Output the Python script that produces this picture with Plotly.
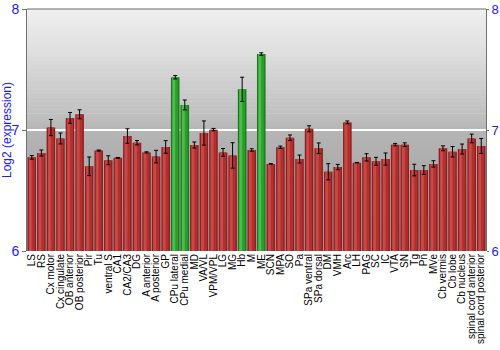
import plotly.graph_objects as go
import numpy as np

regions = ["LS", "RS", "Cx motor", "Cx cingulate", "OB anterior", "OB posterior", "Pir", "Tu",
           "ventral S", "CA1", "CA2/CA3", "DG", "A anterior", "A posterior", "GP", "CPu lateral",
           "CPu medial", "MD", "VA/VL", "VPM/VPL", "LG", "MG", "Hb", "M", "ME", "SCN", "MPA", "SO",
           "Pa", "SPa ventral", "SPa dorsal", "DM", "VMH", "Arc", "LH", "PAG", "SC", "IC", "VTA",
           "SN", "Tg", "Pn", "MVe", "Cb vermis", "Cb lobe", "Cb nucleus", "spinal cord anterior",
           "spinal cord posterior"]
expression = [6.774, 6.81, 7.02, 6.93, 7.10, 7.13, 6.70, 6.83, 6.75, 6.77, 6.95, 6.895, 6.815, 6.78,
              6.86, 7.436, 7.207, 6.876, 6.975, 7.003, 6.815, 6.79, 7.336, 6.835, 7.628, 6.72, 6.857,
              6.936, 6.76, 7.01, 6.849, 6.655, 6.694, 7.063, 6.73, 6.774, 6.741, 6.76, 6.879, 6.879,
              6.669, 6.669, 6.72, 6.849, 6.82, 6.843, 6.93, 6.868]
errors = [0.015, 0.025, 0.067, 0.045, 0.045, 0.037, 0.077, 0.005, 0.037, 0.003, 0.06, 0.018, 0.005,
          0.052, 0.052, 0.014, 0.041, 0.025, 0.1, 0.01, 0.032, 0.105, 0.1, 0.01, 0.01, 0.002, 0.01,
          0.023, 0.033, 0.025, 0.044, 0.067, 0.022, 0.012, 0.002, 0.03, 0.033, 0.05, 0.01, 0.015,
          0.048, 0.036, 0.026, 0.02, 0.043, 0.041, 0.036, 0.062]
highlighted = ["CPu lateral", "CPu medial", "Hb", "ME"]
y_ticks = [6, 7, 8]

red_shades = ["#8e1f1f", "#b03030", "#c94848"]
green_shades = ["#1c7a1c", "#2c9c2c", "#4cbc4c"]

def shade(i):
    return [(green_shades if r in highlighted else red_shades)[i] for r in regions]

fig = go.Figure()

# background gradient
grad = [(240, 0.0), (226, 0.15), (208, 0.3), (190, 0.45), (182, 0.5), (174, 0.62), (166, 0.8), (160, 1.0)]
n = 60
stops_t = [g[1] for g in grad]
stops_c = [g[0] for g in grad]
for k in range(n):
    t = (k + 0.5) / n
    c = int(round(np.interp(t, stops_t, stops_c)))
    fig.add_shape(type="rect", xref="paper", yref="paper", x0=0, x1=1,
                  y0=1 - (k + 1) / n, y1=1 - k / n + 0.002,
                  fillcolor=f"rgb({c},{c},{c})", line_width=0, layer="below")

fig.add_trace(go.Bar(x=regions, y=expression, width=0.9, marker=dict(color=shade(0), line_width=0),
                     hoverinfo="skip", showlegend=False))
fig.add_trace(go.Bar(x=regions, y=expression, width=0.62, marker=dict(color=shade(1), line_width=0),
                     hoverinfo="skip", showlegend=False))
fig.add_trace(go.Bar(x=regions, y=expression, width=0.3, offset=-0.3,
                     marker=dict(color=shade(2), line_width=0),
                     hoverinfo="skip", showlegend=False))
fig.add_trace(go.Bar(x=regions, y=expression, width=0.9, marker=dict(color="rgba(0,0,0,0)", line_width=0),
                     error_y=dict(type="data", array=errors, color="black", thickness=1, width=2),
                     showlegend=False))
fig.add_trace(go.Scatter(x=[regions[0]], y=[7], yaxis="y2", mode="markers",
                         marker=dict(opacity=0), hoverinfo="skip", showlegend=False))

fig.add_shape(type="line", xref="paper", yref="paper", x0=0, x1=1, y0=1, y1=1,
              line=dict(color="#707070", width=1))

blue = "#1a1aff"
fig.update_layout(
    width=500, height=350,
    margin=dict(l=27, r=14, t=9, b=99),
    paper_bgcolor="white", plot_bgcolor="rgba(0,0,0,0)",
    barmode="overlay", bargap=0.05,
    font=dict(family="Liberation Sans, Arial, sans-serif"),
    xaxis=dict(type="category", range=[-0.5, len(regions) - 0.5], tickangle=-90,
               tickmode="array", tickvals=regions, ticktext=regions, automargin=False,
               tickfont=dict(size=10, color="black"), showgrid=False, ticks="",
               showline=False, zeroline=False),
    yaxis=dict(range=[6, 8], tickvals=y_ticks, tickfont=dict(size=14, color=blue), automargin=False,
               showgrid=True, gridcolor="white", gridwidth=1.5, zeroline=False,
               showline=True, linecolor="#707070", ticks="outside", ticklen=4, tickcolor="#707070",
               title=dict(text="Log2 (expression)", font=dict(size=12, color=blue), standoff=2)),
    yaxis2=dict(range=[6, 8], tickvals=y_ticks, overlaying="y", side="right", automargin=False,
                tickfont=dict(size=13, color=blue), showgrid=False, zeroline=False,
                showline=True, linecolor="#707070", ticks="outside", ticklen=2, tickcolor="#707070"),
)

fig.write_html("out.html")
